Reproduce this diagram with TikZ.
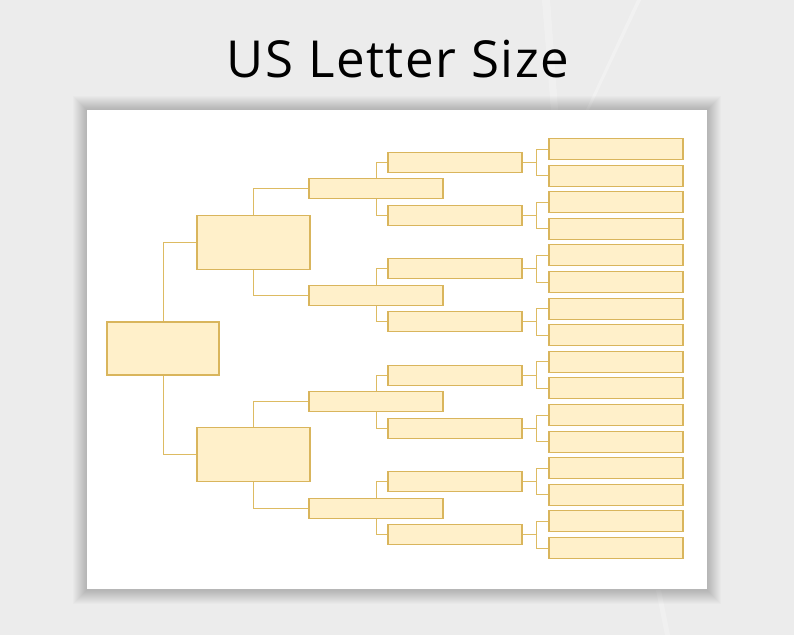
\documentclass[tikz,border=0pt]{standalone}
\usepackage{fontspec}
\newfontfamily\titlefont{Open Sans}[LetterSpace=3]
\definecolor{boxfill}{HTML}{FFF0CA}
\definecolor{boxline}{HTML}{D9B55C}
\definecolor{linkline}{HTML}{DDBB62}
\definecolor{backgray}{HTML}{ECECEC}
\begin{document}
\begin{tikzpicture}[x=1pt, y=-1pt]
				\tikzstyle{Person} = [rectangle, draw=boxline, fill=boxfill, line width=1.1pt, inner sep=0pt]
				\tikzstyle{Big} = [Person, minimum width=112, minimum height=53]
				\tikzstyle{Small} = [Person, minimum width=134, minimum height=20]
				\tikzstyle{Link} = [draw=linkline, line width=1pt]
				\tikzstyle{Shade} = [black, opacity=0.016]
				\useasboundingbox (0,0) rectangle (794,635);
				% background and sheet
				\fill [backgray] (0,0) rectangle (794,635);
				\fill [white, opacity=0.3] (637,0) -- (641,0) -- (589,110) -- (586,110) -- cycle;
				\fill [white, opacity=0.25] (542,0) -- (550,0) -- (558,110) -- (551,110) -- cycle;
				\fill [white, opacity=0.25] (656,590) -- (661,590) -- (670,635) -- (665,635) -- cycle;
				\fill [Shade] (73,96) rectangle (721,604);
				\fill [Shade] (74,97) rectangle (720,603);
				\fill [Shade] (75,98) rectangle (719,602);
				\fill [Shade] (76,99) rectangle (718,601);
				\fill [Shade] (77,100) rectangle (717,600);
				\fill [Shade] (78,101) rectangle (716,599);
				\fill [Shade] (79,102) rectangle (715,598);
				\fill [Shade] (80,103) rectangle (714,597);
				\fill [Shade] (81,104) rectangle (713,596);
				\fill [Shade] (82,105) rectangle (712,595);
				\fill [Shade] (83,106) rectangle (711,594);
				\fill [Shade] (84,107) rectangle (710,593);
				\fill [Shade] (85,108) rectangle (709,592);
				\fill [Shade] (86,109) rectangle (708,591);
				\fill [white] (87,110) rectangle (707,589);
				\node (T) at (398,77) [anchor=base, font=\titlefont\fontsize{51}{58}\selectfont] {US Letter Size};
				% generations
				\node (P1) at (163,348.5) [Big] {};
				\node (P2) at (253.5,242.1) [Big, minimum width=113, minimum height=54] {};
				\node (P3) at (253.5,454.9) [Big, minimum width=113, minimum height=54] {};
				\node (P4) at (376,188.9) [Small] {};
				\node (P5) at (376,295.3) [Small] {};
				\node (P6) at (376,401.7) [Small] {};
				\node (P7) at (376,508.1) [Small] {};
				\node (P8) at (455,162.3) [Small] {};
				\node (P9) at (455,215.5) [Small] {};
				\node (P10) at (455,268.7) [Small] {};
				\node (P11) at (455,321.9) [Small] {};
				\node (P12) at (455,375.1) [Small] {};
				\node (P13) at (455,428.3) [Small] {};
				\node (P14) at (455,481.5) [Small] {};
				\node (P15) at (455,534.7) [Small] {};
				\node (P16) at (616,149.0) [Small, minimum height=21] {};
				\node (P17) at (616,175.6) [Small, minimum height=21] {};
				\node (P18) at (616,202.2) [Small, minimum height=21] {};
				\node (P19) at (616,228.8) [Small, minimum height=21] {};
				\node (P20) at (616,255.4) [Small, minimum height=21] {};
				\node (P21) at (616,282.0) [Small, minimum height=21] {};
				\node (P22) at (616,308.6) [Small, minimum height=21] {};
				\node (P23) at (616,335.2) [Small, minimum height=21] {};
				\node (P24) at (616,361.8) [Small, minimum height=21] {};
				\node (P25) at (616,388.4) [Small, minimum height=21] {};
				\node (P26) at (616,415.0) [Small, minimum height=21] {};
				\node (P27) at (616,441.6) [Small, minimum height=21] {};
				\node (P28) at (616,468.2) [Small, minimum height=21] {};
				\node (P29) at (616,494.8) [Small, minimum height=21] {};
				\node (P30) at (616,521.4) [Small, minimum height=21] {};
				\node (P31) at (616,548.0) [Small, minimum height=21] {};
				% links
				\draw [Link] (P1.north) |- (P2.west);
				\draw [Link] (P1.south) |- (P3.west);
				\draw [Link] (P2.north) |- (P4.west);
				\draw [Link] (P2.south) |- (P5.west);
				\draw [Link] (P3.north) |- (P6.west);
				\draw [Link] (P3.south) |- (P7.west);
				\draw [Link] (P4.north) |- (P8.west);
				\draw [Link] (P4.south) |- (P9.west);
				\draw [Link] (P5.north) |- (P10.west);
				\draw [Link] (P5.south) |- (P11.west);
				\draw [Link] (P6.north) |- (P12.west);
				\draw [Link] (P6.south) |- (P13.west);
				\draw [Link] (P7.north) |- (P14.west);
				\draw [Link] (P7.south) |- (P15.west);
				\draw [Link] (P8.east) -- ++(13.5,0) |- (P16.west);
				\draw [Link] (P8.east) -- ++(13.5,0) |- (P17.west);
				\draw [Link] (P9.east) -- ++(13.5,0) |- (P18.west);
				\draw [Link] (P9.east) -- ++(13.5,0) |- (P19.west);
				\draw [Link] (P10.east) -- ++(13.5,0) |- (P20.west);
				\draw [Link] (P10.east) -- ++(13.5,0) |- (P21.west);
				\draw [Link] (P11.east) -- ++(13.5,0) |- (P22.west);
				\draw [Link] (P11.east) -- ++(13.5,0) |- (P23.west);
				\draw [Link] (P12.east) -- ++(13.5,0) |- (P24.west);
				\draw [Link] (P12.east) -- ++(13.5,0) |- (P25.west);
				\draw [Link] (P13.east) -- ++(13.5,0) |- (P26.west);
				\draw [Link] (P13.east) -- ++(13.5,0) |- (P27.west);
				\draw [Link] (P14.east) -- ++(13.5,0) |- (P28.west);
				\draw [Link] (P14.east) -- ++(13.5,0) |- (P29.west);
				\draw [Link] (P15.east) -- ++(13.5,0) |- (P30.west);
				\draw [Link] (P15.east) -- ++(13.5,0) |- (P31.west);
			\end{tikzpicture}
\end{document}
